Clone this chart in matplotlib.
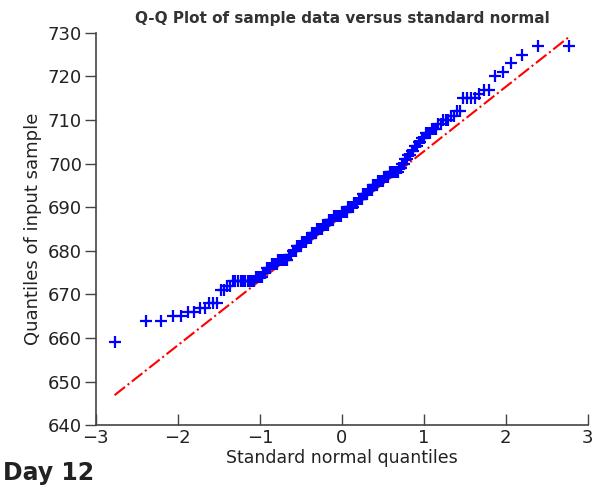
import matplotlib
matplotlib.use("Agg")
import matplotlib.pyplot as plt
import numpy as np
from statistics import NormalDist

# Sorted sample values
sample = [
    659, 664, 664, 665, 665, 666, 666, 667, 667, 668,
    668, 668, 671, 671, 672, 672, 673, 673, 673, 673,
    673, 673, 673, 673, 673, 673, 674, 674, 674, 674,
    675, 675, 676, 676, 676, 677, 677, 677, 677, 678,
    678, 678, 678, 678, 678, 678, 679, 679, 679, 680,
    680, 680, 681, 681, 681, 681, 682, 682, 682, 682,
    683, 683, 683, 683, 684, 684, 684, 684, 685, 685,
    685, 685, 685, 686, 686, 686, 686, 686, 687, 687,
    687, 687, 687, 688, 688, 688, 688, 688, 688, 688,
    689, 689, 689, 689, 689, 690, 690, 690, 690, 690,
    691, 691, 691, 691, 692, 692, 692, 692, 693, 693,
    693, 693, 694, 694, 694, 694, 695, 695, 695, 695,
    696, 696, 696, 696, 696, 697, 697, 697, 697, 698,
    698, 698, 698, 698, 698, 698, 699, 699, 700, 700,
    701, 701, 702, 702, 703, 703, 704, 704, 705, 705,
    706, 706, 707, 707, 707, 708, 708, 708, 709, 709,
    710, 710, 710, 711, 711, 712, 712, 715, 715, 715,
    715, 716, 717, 717, 720, 721, 723, 725, 727, 727,
]

title = "Q-Q Plot of sample data versus standard normal"
xlabel = "Standard normal quantiles"
ylabel = "Quantiles of input sample"
panel_label = "Day 12"
xticks = [-3, -2, -1, 0, 1, 2, 3]
yticks = [640, 650, 660, 670, 680, 690, 700, 710, 720, 730]

y = np.sort(np.array(sample, dtype=float))
n = len(y)
nd = NormalDist()
x = np.array([nd.inv_cdf((i - 0.5) / n) for i in range(1, n + 1)])

# quartile line (as in MATLAB qqplot)
def prctile(v, p):
    pos = p * n + 0.5
    lo = int(np.floor(pos)); frac = pos - lo
    return v[lo - 1] + frac * (v[lo] - v[lo - 1])

q1x, q3x = nd.inv_cdf(0.25), nd.inv_cdf(0.75)
q1y, q3y = prctile(y, 0.25), prctile(y, 0.75)
slope = (q3y - q1y) / (q3x - q1x)
icpt = q1y - slope * q1x
line = lambda t: icpt + slope * t

fig = plt.figure(figsize=(5.92, 4.91), dpi=100)
ax = fig.add_axes([0.162, 0.134, 0.831, 0.799])

xe = np.array([x[0], q1x, q3x, x[-1]])
ax.plot(xe[:2], line(xe[:2]), color="red", ls="-.", lw=1.5, zorder=2)
ax.plot(xe[2:], line(xe[2:]), color="red", ls="-.", lw=1.5, zorder=2)
ax.plot(xe[1:3], line(xe[1:3]), color="red", ls="-", lw=1.5, zorder=2)
ax.plot(x, y, ls="none", marker="+", color="#0000ff", ms=9, mew=1.6, zorder=3)

ax.set_xlim(-3, 3)
ax.set_ylim(640, 730)
ax.set_xticks(xticks)
ax.set_yticks(yticks)
for s in ("top", "right"):
    ax.spines[s].set_visible(False)
for s in ("left", "bottom"):
    ax.spines[s].set_color("#444444")
    ax.spines[s].set_linewidth(1.2)
ax.tick_params(axis="y", direction="out", length=8, width=1, color="#444444",
               labelsize=13, labelcolor="#222222", pad=2)
ax.tick_params(axis="x", direction="in", length=8, width=1, color="#444444",
               labelsize=13, labelcolor="#222222", pad=3)

ax.set_title(title, fontsize=11, fontweight="bold", color="#333333", pad=7)
ax.set_xlabel(xlabel, fontsize=12.5, color="#222222", labelpad=1)
ax.set_ylabel(ylabel, fontsize=13, color="#222222", labelpad=4)
fig.text(0.005, 0.022, panel_label, fontsize=17, fontweight="bold", color="#222222")

fig.savefig("out.png", dpi=100)
